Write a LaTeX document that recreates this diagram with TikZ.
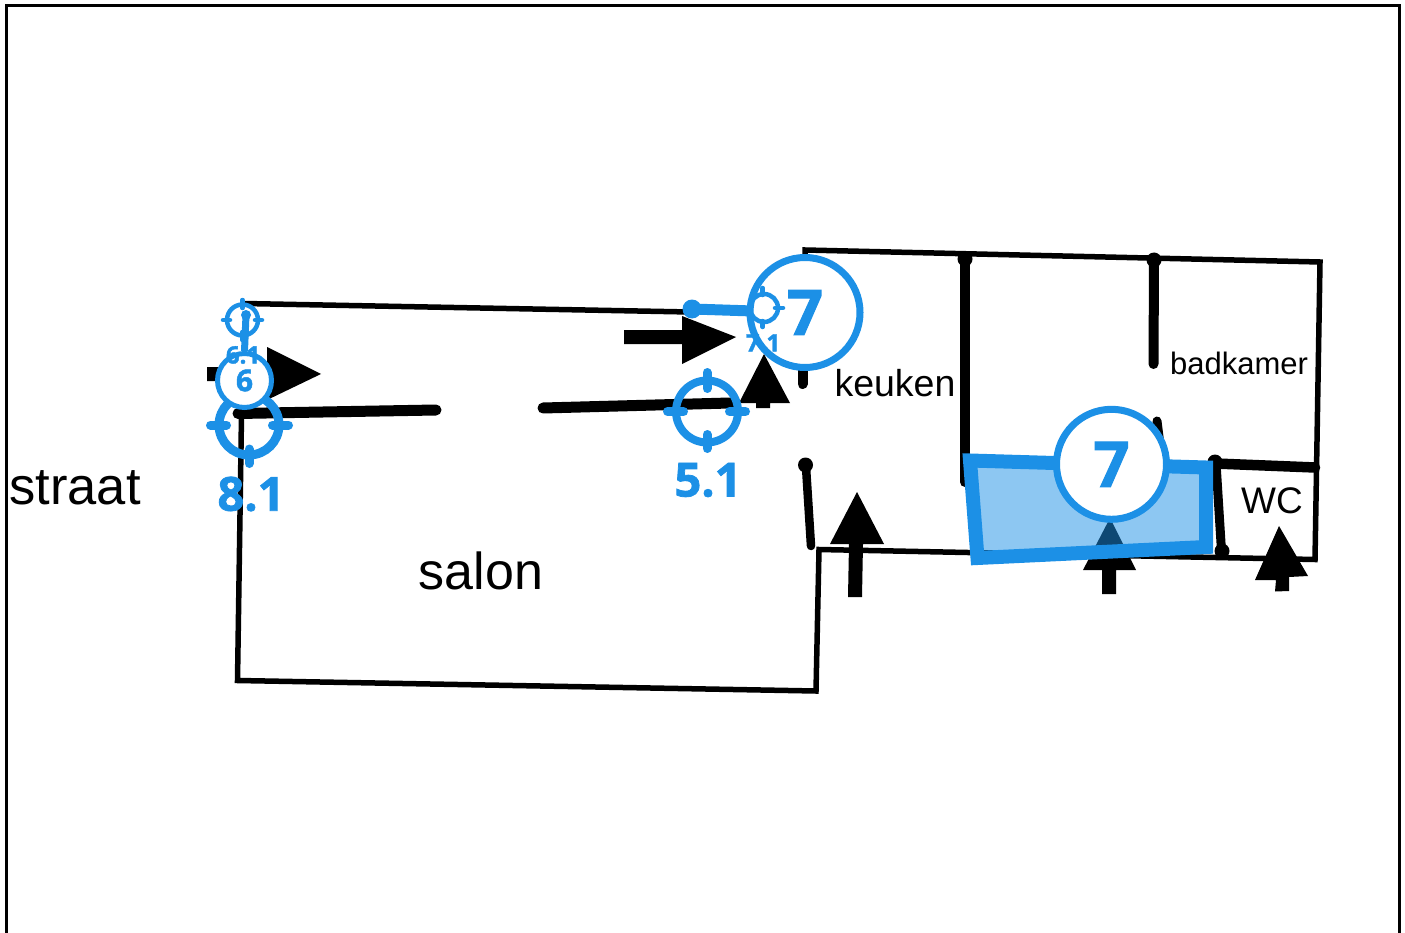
\documentclass[tikz,border=0pt]{standalone}
\usepackage{fontspec}
\setmainfont{Liberation Sans}
\newfontfamily\bluefont[BoldFeatures={FakeBold=1.6}]{Open Sans}
\definecolor{mk}{HTML}{1C90E6}
\newcommand{\fs}[1]{\fontsize{#1}{#1}\selectfont}
\tikzset{
  x=1pt,y=-1pt,
  thinwall/.style={draw=black,line width=5.5pt,line join=miter},
  thickwall/.style={draw=black,line cap=round,line join=round},
  blockarrow/.style={fill=black,draw=none},
  label/.style={inner sep=0pt,text=black},
  marklabel/.style={inner sep=0pt,text=mk},
  badge/.style={circle,draw=mk,fill=white,inner sep=0pt,text=mk},
  ring/.style={circle,draw=mk,fill=none,inner sep=0pt},
  tick/.style={draw=mk,line cap=round},
}
\begin{document}
\begin{tikzpicture}
\useasboundingbox (0,0) rectangle (1405,933);
% frame
\draw[black,line width=3pt] (6,933) -- (6,5.5) -- (1399,5.5) -- (1399,933);
% outline walls
\draw[thinwall] (244,303.5) -- (690,312);
\draw[thinwall] (241.5,415) -- (237.5,680.5) -- (816,691) -- (819,549.5) -- (1315,559.5) -- (1320,262) -- (805,250) -- (805,290);
% thick walls
\draw[thickwall,line width=11pt] (238,413.5) -- (436,410);
\draw[thickwall,line width=11pt] (543,408) -- (730,403);
\draw[thickwall,line width=10pt] (802.5,360) -- (802.5,384);
\draw[thickwall,line width=8.5pt] (806,467) -- (811,546);
\draw[thickwall,line width=10pt] (965,259) -- (965,482);
\draw[thickwall,line width=10pt] (1154,260) -- (1153.5,364);
\draw[thickwall,line width=9pt] (1157,421) -- (1160,445);
\draw[thickwall,line width=10.5pt] (1215,463.5) -- (1315,467.5);
\draw[thickwall,line width=9pt] (1216,463) -- (1221.5,551);
\fill (805.5,465) circle (7.5);
\fill (965,259) circle (7.5);
\fill (1154,260) circle (7.5);
\fill (1215,462) circle (7.5);
\fill (1222,551) circle (7.5);
% block arrows
\fill[blockarrow] (207,367) -- (267,367) -- (267,347) -- (321,374) -- (267,400) -- (267,381) -- (207,381) -- cycle;
\fill[blockarrow] (624,330) -- (682,330) -- (682,316) -- (736,337) -- (682,364) -- (682,344) -- (624,344) -- cycle;
\fill[blockarrow] (756,408) -- (756,403) -- (739,403) -- (764,354) -- (790,403) -- (770,403) -- (770,408) -- cycle;
\fill[blockarrow] (848,597) -- (849,544) -- (830,544) -- (857,492) -- (884,544) -- (863,544) -- (862,597) -- cycle;
\fill[blockarrow] (1102,594) -- (1102,570) -- (1083,570) -- (1110,518) -- (1136,570) -- (1116,570) -- (1116,594) -- cycle;
\fill[blockarrow] (1275,591.5) -- (1276,580) -- (1255,580) -- (1279,526) -- (1308,576) -- (1289,577) -- (1289,591) -- cycle;
% room labels
\node[label,font=\fs{52.5}] (straat) at (75,488) {straat};
\node[label,font=\fs{52}] (salon) at (481,571) {salon};
\node[label,font=\fs{37.5}] (keuken) at (895,383) {keuken};
\node[label,font=\fs{31}] (badkamer) at (1239,363) {badkamer};
\node[label,font=\fs{37}] (wc) at (1272,501) {WC};
% highlighted area
\draw[draw=mk,line width=14pt,fill=mk,fill opacity=.5,draw opacity=1,line join=miter]
  (970,460.5) -- (1206,467.5) -- (1206,547) -- (977.5,558) -- cycle;
% marker 6.1
\node[ring,line width=4.5pt,minimum size=31pt] (m61) at (242.5,320) {};
\draw[tick,line width=4.5pt] (223,320) -- (230,320);
\draw[tick,line width=4.5pt] (255,320) -- (262,320);
\draw[tick,line width=4.5pt] (242.5,300) -- (242.5,308);
\draw[tick,line width=4.5pt] (242.5,332) -- (242.5,340);
% marker 8.1
\node[ring,line width=9pt,minimum size=60pt] (m81) at (249,425) {};
\draw[tick,line width=9pt] (210.5,425) -- (226.5,425);
\draw[tick,line width=9pt] (272.5,425) -- (288.5,425);
\draw[tick,line width=9pt] (249,449) -- (249,463.5);
\node[marklabel,font=\bluefont\bfseries\fs{47}] (t81) at (251,494) {8.1};
% badge 6
\node[badge,line width=5pt,minimum size=54pt,font=\bluefont\bfseries\fs{30}] (b6) at (244.5,380.5) {6};
\coordinate (d6) at (246,315);
\draw[mk,line width=7pt] (d6) -- (b6.north);
\fill[mk] (d6) circle (5);
\node[marklabel,font=\bluefont\bfseries\fs{24}] (t61) at (243,355) {6.1};
% marker 5.1
\node[ring,line width=8pt,minimum size=62pt] (m51) at (707,411.5) {};
\draw[tick,line width=9pt] (707,372.5) -- (707,388.5);
\draw[tick,line width=9pt] (707,434.5) -- (707,448.5);
\draw[tick,line width=9pt] (667.5,411.5) -- (683.5,411.5);
\draw[tick,line width=9pt] (729.5,411.5) -- (745.5,411.5);
\node[marklabel,font=\bluefont\bfseries\fs{47}] (t51) at (708,480) {5.1};
% badge 7, upper, with marker 7.1
\node[badge,line width=7pt,minimum size=110pt,font=\bluefont\bfseries\fs{63}] (b7a) at (805,312.5) {7};
\coordinate (d7) at (692,309);
\coordinate (e7) at (753,311);
\draw[mk,line width=11pt] (d7) -- (e7);
\fill[mk] (d7) circle (9.5);
\node[ring,line width=4.5pt,minimum size=28pt] (m71) at (764,308) {};
\draw[tick,line width=4.5pt] (762.7,288) -- (762.7,295);
\draw[tick,line width=4.5pt] (762.7,321) -- (762.7,327);
\draw[tick,line width=4.5pt] (775,308) -- (783,308);
\node[marklabel,font=\bluefont\bfseries\fs{24}] (t71) at (763,343) {7.1};
% badge 7, lower
\node[badge,line width=7pt,minimum size=110pt,font=\bluefont\bfseries\fs{63}] (b7b) at (1111.5,464.3) {7};
\end{tikzpicture}
\end{document}
